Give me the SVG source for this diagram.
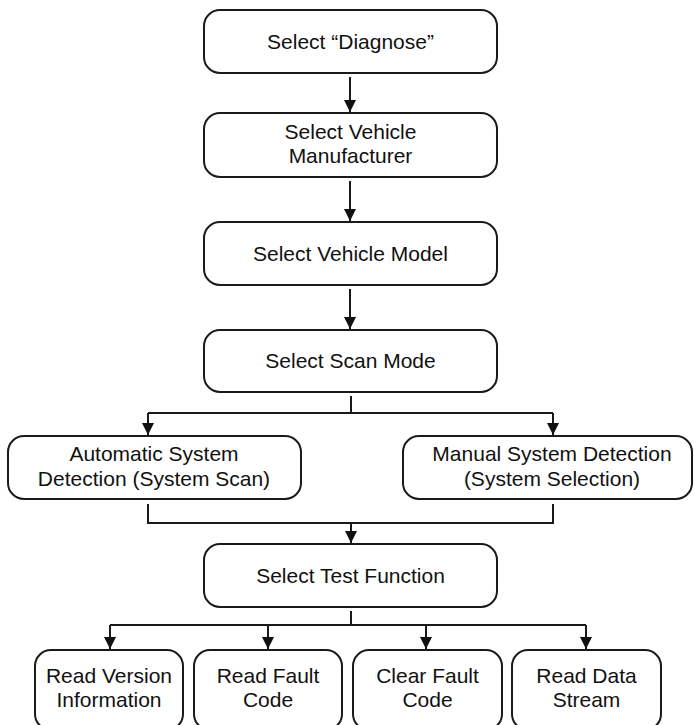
<svg xmlns="http://www.w3.org/2000/svg" width="694" height="725" viewBox="0 0 694 725">
  <defs>
    <marker id="arrow" markerWidth="12" markerHeight="12" refX="12" refY="6" orient="auto" markerUnits="userSpaceOnUse">
      <path d="M0,0 L12,6 L0,12 Z" fill="#111"/>
    </marker>
    <style>
      .box { fill: #fff; stroke: #1a1a1a; stroke-width: 2; }
      .lbl { font-family: "Liberation Sans", Arial, sans-serif; font-size: 21px; fill: #111; text-anchor: middle; }
      .wire { fill: none; stroke: #1a1a1a; stroke-width: 2; }
      .wire-arrow { fill: none; stroke: #1a1a1a; stroke-width: 2; marker-end: url(#arrow); }
    </style>
  </defs>
  <rect width="694" height="725" fill="#fff"/>

  <g id="connectors">
    <line class="wire-arrow" x1="350" y1="77" x2="350" y2="112"/>
    <line class="wire-arrow" x1="350" y1="181" x2="350" y2="221"/>
    <line class="wire-arrow" x1="350" y1="289" x2="350" y2="329"/>
    <polyline class="wire" points="351,396 351,413"/>
    <polyline class="wire-arrow" points="148,413 148,435"/>
    <polyline class="wire" points="148,413 553,413"/>
    <polyline class="wire-arrow" points="553,413 553,435"/>
    <polyline class="wire" points="148,504 148,523 553,523 553,504"/>
    <line class="wire-arrow" x1="351" y1="523" x2="351" y2="543"/>
    <polyline class="wire" points="351,611 351,625"/>
    <polyline class="wire" points="110,625 586,625"/>
    <line class="wire-arrow" x1="110" y1="625" x2="110" y2="649"/>
    <line class="wire-arrow" x1="268" y1="625" x2="268" y2="649"/>
    <line class="wire-arrow" x1="426" y1="625" x2="426" y2="649"/>
    <line class="wire-arrow" x1="586" y1="625" x2="586" y2="649"/>
  </g>

  <g id="select-diagnose">
    <rect class="box" x="204" y="10" width="293" height="63" rx="16"/>
    <text class="lbl" x="350.5" y="49">Select “Diagnose”</text>
  </g>
  <g id="select-manufacturer">
    <rect class="box" x="204" y="113" width="293" height="64" rx="16"/>
    <text class="lbl" x="350.5" y="139">Select Vehicle</text>
    <text class="lbl" x="350.5" y="163">Manufacturer</text>
  </g>
  <g id="select-model">
    <rect class="box" x="204" y="222" width="293" height="63" rx="16"/>
    <text class="lbl" x="350.5" y="261">Select Vehicle Model</text>
  </g>
  <g id="select-scan-mode">
    <rect class="box" x="204" y="330" width="293" height="62" rx="16"/>
    <text class="lbl" x="350.5" y="368">Select Scan Mode</text>
  </g>
  <g id="auto-detection">
    <rect class="box" x="8" y="436" width="293" height="63" rx="16"/>
    <text class="lbl" x="154" y="461">Automatic System</text>
    <text class="lbl" x="154" y="486">Detection (System Scan)</text>
  </g>
  <g id="manual-detection">
    <rect class="box" x="403" y="436" width="289" height="63" rx="16"/>
    <text class="lbl" x="552" y="461">Manual System Detection</text>
    <text class="lbl" x="552" y="486">(System Selection)</text>
  </g>
  <g id="select-test-function">
    <rect class="box" x="204" y="544" width="293" height="63" rx="16"/>
    <text class="lbl" x="350.5" y="583">Select Test Function</text>
  </g>
  <g id="read-version">
    <rect class="box" x="35" y="650" width="148" height="80" rx="16"/>
    <text class="lbl" x="109" y="683">Read Version</text>
    <text class="lbl" x="109" y="707">Information</text>
  </g>
  <g id="read-fault-code">
    <rect class="box" x="194" y="650" width="148" height="80" rx="16"/>
    <text class="lbl" x="268" y="683">Read Fault</text>
    <text class="lbl" x="268" y="707">Code</text>
  </g>
  <g id="clear-fault-code">
    <rect class="box" x="353" y="650" width="149" height="80" rx="16"/>
    <text class="lbl" x="427.5" y="683">Clear Fault</text>
    <text class="lbl" x="427.5" y="707">Code</text>
  </g>
  <g id="read-data-stream">
    <rect class="box" x="512" y="650" width="149" height="80" rx="16"/>
    <text class="lbl" x="586.5" y="683">Read Data</text>
    <text class="lbl" x="586.5" y="707">Stream</text>
  </g>
</svg>
